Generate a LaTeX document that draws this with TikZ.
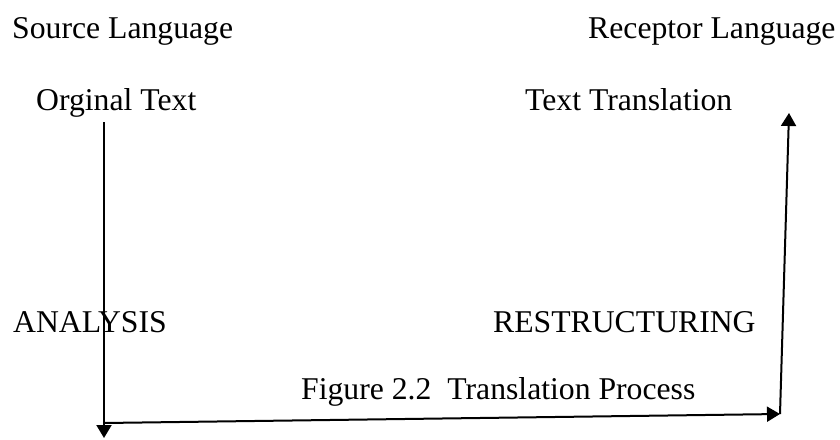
\documentclass[tikz,border=0pt]{standalone}
\usepackage{fontspec}
\setmainfont{Liberation Serif}
\usetikzlibrary{arrows.meta}
\begin{document}
\begin{tikzpicture}[x=1pt,y=-1pt,
  lbl/.style={anchor=base west,inner sep=0pt,font=\fontsize{31.7}{38}\selectfont},
  conn/.style={line width=2pt,-{Triangle[length=13pt,width=15pt]}}]
\useasboundingbox (0,0) rectangle (840,439);
\node[lbl] (src) at (12,38) {Source Language};
\node[lbl] (rec) at (588,38) {Receptor Language};
\node[lbl] (orig) at (36,110) {Orginal Text};
\node[lbl] (trans) at (525,110) {Text Translation};
\node[lbl] (ana) at (13,332) {ANALYSIS};
\node[lbl] (res) at (493,332) {RESTRUCTURING};
\node[lbl] (fig) at (301,399) {Figure 2.2\ \ Translation Process};
\coordinate (a1) at (104,122);
\coordinate (a2) at (104,438);
\coordinate (b1) at (104,423);
\coordinate (b2) at (780,414);
\coordinate (c2) at (789,113);
\draw[conn] (a1) -- (a2);
\draw[conn] (b1) -- (b2);
\draw[conn] (b2) -- (c2);
\end{tikzpicture}
\end{document}
